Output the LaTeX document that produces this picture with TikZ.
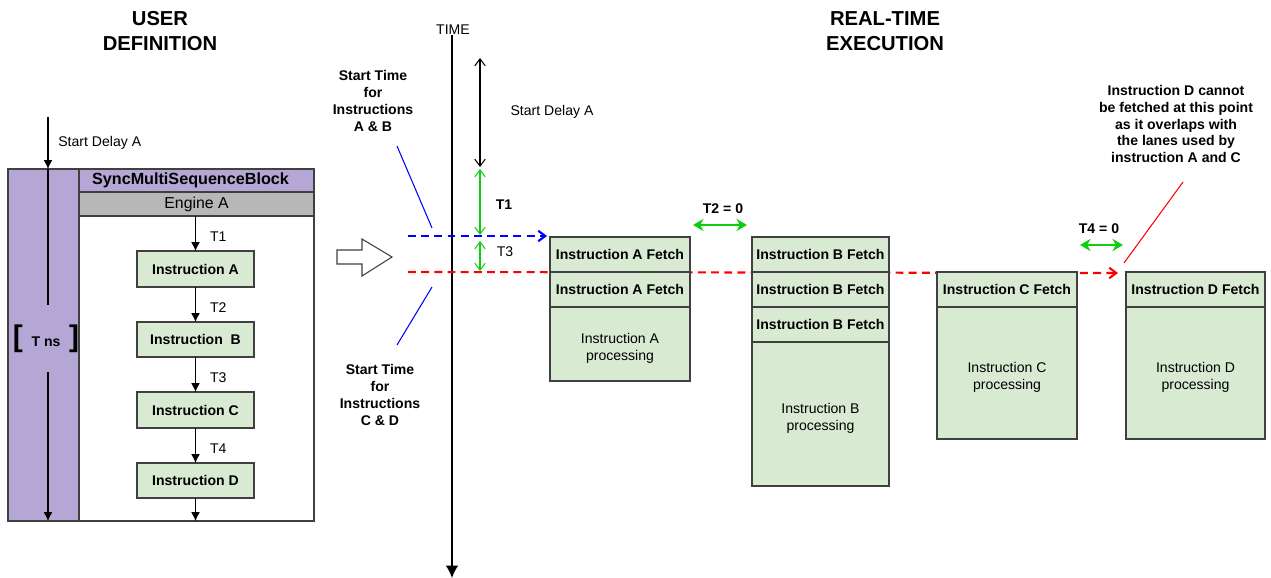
\documentclass[tikz,border=0pt]{standalone}
\usepackage{fontspec}
\setmainfont{Liberation Sans}
\usetikzlibrary{arrows.meta}
\newcommand*{\px}{0.02cm}
\newcommand*{\lowtop}{\rule{0pt}{10.3pt}}
\definecolor{lilac}{HTML}{B4A7D6}
\definecolor{boxgreen}{HTML}{D9EAD3}
\definecolor{enggray}{HTML}{B7B7B7}
\definecolor{edge}{HTML}{404040}
\definecolor{tgreen}{HTML}{11CC11}

\begin{document}
\begin{tikzpicture}[x=\px,y=-\px]
\tikzset{txt/.style={font=\fontsize{8}{9.6}\selectfont, inner sep=0pt, align=center},
  btxt/.style={font=\fontsize{8}{9.6}\selectfont\bfseries, inner sep=0pt, align=center},
  title/.style={font=\fontsize{11.5}{14.2}\selectfont\bfseries, inner sep=0pt, align=center},
  cell/.style={draw=edge, line width=0.6pt, fill=boxgreen, anchor=north west, inner sep=0pt, outer sep=0pt, align=center, minimum width=#1*\px},
  fetch/.style={cell=#1, minimum height=35*\px, font=\fontsize{8}{9.6}\selectfont\bfseries},
  proc/.style={cell=#1, font=\fontsize{8}{9.6}\selectfont},
  flow/.style={line width=0.6pt, -{Latex[length=5pt,width=5pt]}},
  span/.style={line width=0.6pt, {Straight Barb[length=4pt,width=6pt]}-{Straight Barb[length=4pt,width=6pt]}},
  gap/.style={tgreen, line width=1.3pt, {Stealth[length=6pt,width=7pt]}-{Stealth[length=6pt,width=7pt]}},
  lane/.style={line width=1.2pt, dash pattern=on 4.5pt off 3pt, -{Straight Barb[length=4pt,width=6pt]}}}

\useasboundingbox (0,0) rectangle (1271,578);

% titles
\node[title] (usertitle) at (160,31) {USER\\DEFINITION};
\node[title] (rttitle) at (885,31) {REAL-TIME\\EXECUTION};

% user definition block
\fill[lilac] (8,169) rectangle (79,521);
\draw[edge, line width=0.6pt] (8,169) rectangle (314,521);
\draw[edge, line width=0.6pt] (79,169) -- (79,521);
\node[cell=235, fill=lilac, minimum height=23*\px, font=\fontsize{9.2}{11}\selectfont\bfseries] (sync) at (79,169) {SyncMultiSequenceBlock\hspace*{0.24cm}};
\node[cell=235, fill=enggray, minimum height=24*\px, font=\fontsize{9}{11}\selectfont] (engine) at (79,192) {Engine A};
\node[cell=117, minimum height=36*\px, font=\fontsize{8}{9.6}\selectfont\bfseries] (insA) at (137,251) {Instruction A};
\node[cell=117, minimum height=35*\px, font=\fontsize{8}{9.6}\selectfont\bfseries] (insB) at (137,322) {Instruction~~B};
\node[cell=117, minimum height=36*\px, font=\fontsize{8}{9.6}\selectfont\bfseries] (insC) at (137,392) {Instruction C};
\node[cell=117, minimum height=35*\px, font=\fontsize{8}{9.6}\selectfont\bfseries] (insD) at (137,463) {Instruction D};
\coordinate (insend) at (195.5,521);

\draw[flow] (insA.north |- engine.south) -- node[txt, right, xshift=8pt, yshift=-2pt] {T1} (insA);
\draw[flow] (insA) -- node[txt, right, xshift=8pt, yshift=-2pt] {T2} (insB);
\draw[flow] (insB) -- node[txt, right, xshift=8pt, yshift=-2pt] {T3} (insC);
\draw[flow] (insC) -- node[txt, right, xshift=8pt, yshift=-2pt] {T4} (insD);
\draw[flow] (insD) -- (insend);

\coordinate (sdstart) at (48,117);
\coordinate (coltop) at (48,169);
\coordinate (colbot) at (48,521);
\node[txt, anchor=west] (sdlabel) at (58,143) {Start Delay A};
\node[inner sep=0pt, minimum height=67*\px, font=\bfseries] (tns) at (46,338.5)
  {{\fontsize{17}{17}\selectfont[}\enspace{\fontsize{8}{9.6}\selectfont T ns}\enspace{\fontsize{17}{17}\selectfont]}};
\draw[flow] (sdstart) -- (coltop);
\draw[line width=0.6pt] (coltop) -- (coltop |- tns.north);
\draw[flow] (colbot |- tns.south) -- (colbot);

% hollow arrow
\draw[edge, line width=0.6pt, fill=white] (337,250) -- (362,250) -- (362,239) -- (392,257) -- (362,276) -- (362,264) -- (337,264) -- cycle;

% time axis
\node[txt] (time) at (453,30) {TIME};
\coordinate (timeend) at (452,578);
\draw[line width=0.7pt, -{Latex[length=7pt,width=7pt]}] (time.south -| timeend) -- (timeend);

% start time labels
\node[btxt] (startAB) at (373,101) {Start Time\\for\\Instructions\\A \& B};
\node[btxt] (startCD) at (380,395) {Start Time\\for\\Instructions\\C \& D};
\coordinate (abtip) at (432,228);
\coordinate (abtail) at (397,146);
\coordinate (cdtip) at (432,287);
\coordinate (cdtail) at (397,345);
\draw[blue, line width=0.6pt] (abtail) -- (abtip);
\draw[blue, line width=0.6pt] (cdtip) -- (cdtail);

% lanes
\coordinate (bluestart) at (408,236);
\coordinate (blueend) at (547,236);
\coordinate (redstart) at (408,272);
\coordinate (redend) at (1118,273);
\draw[lane, red] (redstart) -- (redend);
\draw[lane, blue] (bluestart) -- (blueend);

% delays on the time axis
\coordinate (sdtop) at (480,58);
\coordinate (sdbot) at (480,167);
\coordinate (t1top) at (480,169);
\coordinate (t1bot) at (480,235);
\coordinate (t3top) at (480,241);
\coordinate (t3bot) at (480,271);
\draw[span] (sdtop) -- (sdbot);
\draw[span, tgreen] (t1top) -- (t1bot);
\draw[span, tgreen] (t3top) -- (t3bot);
\node[txt] (sdmid) at (552,112) {Start Delay A};
\node[btxt] (t1lab) at (504,205) {T1};
\node[txt] (t3lab) at (505,252) {T3};

% real-time execution
\node[fetch=140] (afetch1) at (550,237) {Instruction A Fetch};
\node[fetch=140] (afetch2) at (550,272) {Instruction A Fetch};
\node[proc=140, minimum height=74*\px] (aproc) at (550,307) {\lowtop Instruction A\\processing};

\node[fetch=137] (bfetch1) at (752,237) {Instruction B Fetch};
\node[fetch=137] (bfetch2) at (752,272) {Instruction B Fetch};
\node[fetch=137] (bfetch3) at (752,307) {Instruction B Fetch};
\node[proc=137, minimum height=144*\px] (bproc) at (752,342) {\lowtop Instruction B\\processing};

\node[fetch=140] (cfetch) at (937,272) {Instruction C Fetch};
\node[proc=140, minimum height=132*\px] (cproc) at (937,307) {\lowtop Instruction C\\processing};

\node[fetch=139] (dfetch) at (1126,272) {Instruction D Fetch};
\node[proc=139, minimum height=132*\px] (dproc) at (1126,307) {\lowtop Instruction D\\processing};

% zero gaps
\node[btxt] (t2lab) at (723,209) {T2 = 0};
\coordinate (t2l) at (693,225);
\coordinate (t2r) at (747,225);
\draw[gap] (t2l) -- (t2r);
\node[btxt] (t4lab) at (1099,229) {T4 = 0};
\coordinate (t4l) at (1080,245);
\coordinate (t4r) at (1123,245);
\draw[gap] (t4l) -- (t4r);

% note
\node[btxt] (note) at (1176,124) {Instruction D cannot\\be fetched at this point\\as it overlaps with\\the lanes used by\\instruction A and C};
\coordinate (notetip) at (1124,263);
\coordinate (notetail) at (1183,182);
\draw[red, line width=0.6pt] (notetail) -- (notetip);
\end{tikzpicture}
\end{document}
